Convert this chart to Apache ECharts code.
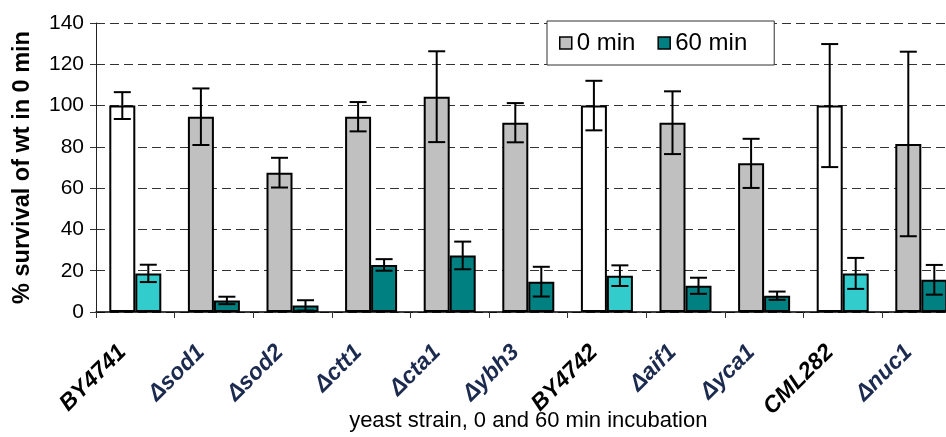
<!DOCTYPE html>
<html>
<head>
<meta charset="utf-8">
<script src="https://cdn.jsdelivr.net/npm/echarts@6/dist/echarts.min.js"></script>
<style>
html,body{margin:0;padding:0;background:#fff;}
#chart{width:946px;height:437px;}
</style>
</head>
<body>
<div id="chart"></div>
<script>
// ---- data ----
const categories = ['BY4741','Δsod1','Δsod2','Δctt1','Δcta1','Δybh3','BY4742','Δaif1','Δyca1','CML282','Δnuc1'];
const wildTypes = ['BY4741','BY4742','CML282'];
const seriesNames = ['0 min','60 min'];
const values0 = [100, 94.6, 67.5, 94.6, 104.3, 91.7, 100, 91.7, 72, 100, 81.4];
const err0 = [6.5, 13.7, 7.2, 7.1, 22, 9.5, 12, 15.2, 11.9, 29.8, 44.7];
const values60 = [18.7, 5.6, 3.2, 22.8, 27.4, 14.7, 17.6, 12.7, 7.9, 18.7, 15.6];
const err60 = [4.2, 1.8, 2.5, 2.8, 6.7, 7.2, 5, 3.9, 2, 7.5, 7.2];
const yTicks = [0, 20, 40, 60, 80, 100, 120, 140];

// ---- styles ----
const colGray = '#C0C0C0', colTeal = '#008080', colWhite = '#FFFFFF', colCyan = '#33CCCC';
const BAR_W = 26;
const FONT = 'Liberation Sans, Arial, sans-serif';

const chart = echarts.init(document.getElementById('chart'));

function barData(vals, wtColor) {
  return vals.map((v, i) => wildTypes.includes(categories[i])
    ? { value: v, itemStyle: { color: wtColor } }
    : v);
}
function errData(vals, errs) {
  return vals.map((v, i) => [i, v - errs[i], v + errs[i]]);
}
function errRender(offset) {
  return function (params, api) {
    const i = api.value(0);
    const lo = api.coord([i, api.value(1)]);
    const hi = api.coord([i, api.value(2)]);
    const x = lo[0] + offset;
    const cap = 8.5;
    const style = { stroke: '#000', lineWidth: 2 };
    return {
      type: 'group',
      children: [
        { type: 'line', shape: { x1: x, y1: hi[1], x2: x, y2: lo[1] }, style },
        { type: 'line', shape: { x1: x - cap, y1: hi[1], x2: x + cap, y2: hi[1] }, style },
        { type: 'line', shape: { x1: x - cap, y1: lo[1], x2: x + cap, y2: lo[1] }, style }
      ]
    };
  };
}

const option = {
  animation: false,
  backgroundColor: '#fff',
  textStyle: { fontFamily: FONT },
  grid: { left: 96, top: 23, width: 864.6, bottom: 125, containLabel: false, outerBoundsMode: 'none' },
  legend: {
    data: seriesNames,
    left: 547, top: 21,
    backgroundColor: '#fff',
    borderColor: '#333', borderWidth: 1,
    padding: [10, 27, 10, 12],
    itemWidth: 12, itemHeight: 12, itemGap: 22,
    icon: 'rect',
    itemStyle: { borderColor: '#000', borderWidth: 1.5 },
    textStyle: { fontSize: 24, color: '#000', fontFamily: FONT }
  },
  xAxis: {
    type: 'category',
    data: categories,
    name: 'yeast strain, 0 and 60 min incubation',
    nameLocation: 'middle',
    nameGap: 98,
    nameMoveOverlap: false,
    nameTextStyle: { fontSize: 22, color: '#000', fontFamily: FONT },
    axisLine: { lineStyle: { color: '#000', width: 1.5 } },
    axisTick: { show: true, length: 6, lineStyle: { color: '#333' } },
    axisLabel: {
      interval: 0, rotate: 45, margin: 24,
      padding: [0, 18, 0, 0],
      fontSize: 23, fontWeight: 'bold', fontStyle: 'italic',
      fontFamily: FONT,
      color: function (val) { return wildTypes.includes(val) ? '#000' : '#1b2a4e'; }
    },
    splitLine: { show: false }
  },
  yAxis: {
    type: 'value',
    min: yTicks[0], max: yTicks[yTicks.length - 1], interval: 20,
    name: '% survival of wt in 0 min',
    nameLocation: 'middle',
    nameGap: 61,
    nameRotate: 90,
    nameTextStyle: { fontSize: 23.5, fontWeight: 'bold', color: '#000', fontFamily: FONT },
    axisLine: { show: true, lineStyle: { color: '#222', width: 1 } },
    axisTick: { show: true, length: 6, lineStyle: { color: '#333' } },
    axisLabel: { fontSize: 21, color: '#000', margin: 12, fontFamily: FONT },
    splitLine: { show: true, lineStyle: { color: '#333', type: [9, 5], width: 1 } }
  },
  series: [
    {
      name: seriesNames[0], type: 'bar', barWidth: BAR_W, barGap: '0%',
      itemStyle: { color: colGray, borderColor: '#000', borderWidth: 2 },
      data: barData(values0, colWhite), z: 2
    },
    {
      name: seriesNames[1], type: 'bar', barWidth: BAR_W, barGap: '0%',
      itemStyle: { color: colTeal, borderColor: '#000', borderWidth: 2 },
      data: barData(values60, colCyan), z: 2
    },
    {
      type: 'custom', name: 'err0', renderItem: errRender(-BAR_W / 2),
      data: errData(values0, err0), encode: { x: 0, y: [1, 2] }, z: 5, silent: true
    },
    {
      type: 'custom', name: 'err60', renderItem: errRender(BAR_W / 2),
      data: errData(values60, err60), encode: { x: 0, y: [1, 2] }, z: 5, silent: true
    }
  ]
};
chart.setOption(option);
</script>
</body>
</html>
